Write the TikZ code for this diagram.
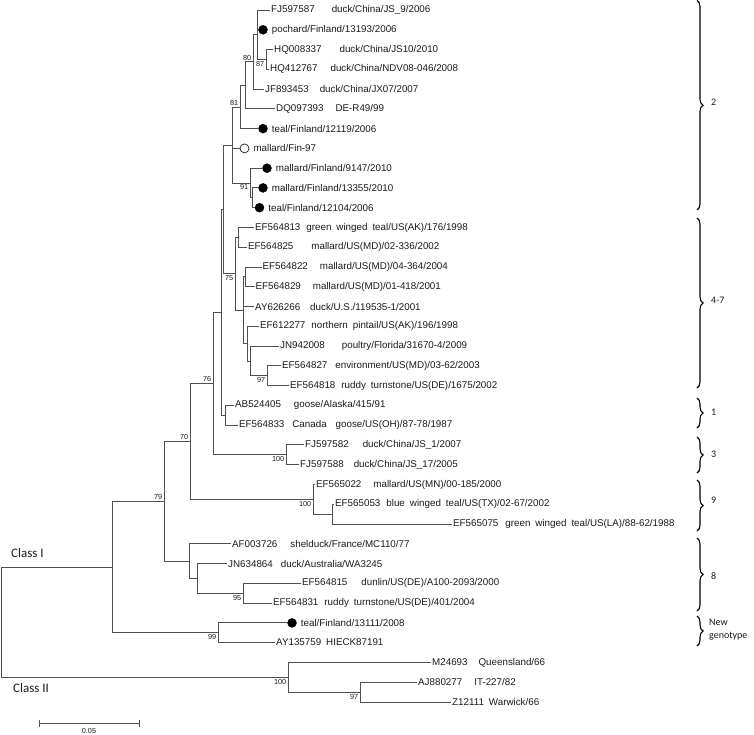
\documentclass[tikz,border=0pt]{standalone}
\usepackage{fontspec}
\setmainfont{Liberation Sans}
\newfontfamily\cladefont{Carlito}
\usepackage{tikz}
\usetikzlibrary{decorations.pathreplacing,positioning}
\definecolor{trLine}{HTML}{505050}
\definecolor{trInk}{HTML}{1A1A1A}
\newcommand{\tgap}[1]{\hspace{#1pt}}
\tikzset{
  tr tree/.style={x=1pt, y=-1pt, font=\fontsize{9.8}{11}\selectfont, text=trInk},
  tr branch/.style={draw=trLine, line width=0.9pt},
  tr leaf/.style={anchor=west, inner sep=1pt},
  tr dot/.style={circle, fill=black, draw=black, inner sep=0pt, minimum size=9pt},
  tr open dot/.style={tr dot, fill=white, line width=0.6pt},
  tr boot/.style={font=\fontsize{7.3}{8}\selectfont, inner sep=0.5pt},
  tr boot above/.style={tr boot, anchor=south east},
  tr boot below/.style={tr boot, anchor=north east},
  tr brace/.style={draw=black, line width=1.1pt, decorate,
    decoration={brace, amplitude=6pt, aspect=0.5}},
  tr clade/.style={font=\cladefont\fontsize{10}{13}\selectfont, anchor=west, align=left, inner sep=1pt},
  tr class/.style={font=\cladefont\fontsize{13}{15}\selectfont, anchor=west, inner sep=1pt},
  tr scale/.style={draw=trLine, line width=0.9pt}
}
\begin{document}
\begin{tikzpicture}[tr tree]
\useasboundingbox (0,0) rectangle (754,734);
\coordinate (root) at (1,622.2);
\coordinate (cI) at (112,567);
\coordinate (cII) at (288,677.3);
\coordinate (n97b) at (360,692.1);
\coordinate (n99) at (218,632.8);
\coordinate (n79) at (164,501.3);
\coordinate (n8) at (189,561.1);
\coordinate (n8b) at (197,578.4);
\coordinate (n95) at (243,593.2);
\coordinate (n70) at (190,441.5);
\coordinate (n9) at (313,499.4);
\coordinate (n9b) at (332,514.2);
\coordinate (n76) at (213,383.6);
\coordinate (n3) at (286,454.8);
\coordinate (nK) at (221,312.4);
\coordinate (n1) at (225,415.3);
\coordinate (nL) at (223,209.5);
\coordinate (n75) at (235,273.9);
\coordinate (n47a) at (238,237.4);
\coordinate (n47b) at (243,310.3);
\coordinate (n47c) at (245,276.9);
\coordinate (n47d) at (247,343.7);
\coordinate (n47e) at (250,361);
\coordinate (n97a) at (267,375.8);
\coordinate (n2) at (232,145);
\coordinate (n81) at (240,107);
\coordinate (n2a) at (245,85.4);
\coordinate (n80) at (253,61.9);
\coordinate (n2b) at (257,34.7);
\coordinate (n87) at (266,59.4);
\coordinate (n91) at (250,183);
\coordinate (n91b) at (252,197.8);

\node[tr leaf] (fj587) at (270,10.0) {FJ597587\tgap{17}duck/China/JS\_9/2006};
\node[tr dot] (pochard) at (263,29.8) {};
\node[tr leaf, right=3pt of pochard] (pochard l) {pochard/Finland/13193/2006};
\node[tr leaf] (hq337) at (273,49.5) {HQ008337\tgap{18}duck/China/JS10/2010};
\node[tr leaf] (hq767) at (269,69.3) {HQ412767\tgap{13}duck/China/NDV08-046/2008};
\node[tr leaf] (jf453) at (264,89.1) {JF893453\tgap{11}duck/China/JX07/2007};
\node[tr leaf] (dq393) at (275,108.9) {DQ097393\tgap{12}DE-R49/99};
\node[tr dot] (teal119) at (263,128.6) {};
\node[tr leaf, right=3pt of teal119] (teal119 l) {teal/Finland/12119/2006};
\node[tr open dot] (mal97) at (244.5,148.4) {};
\node[tr leaf, right=3pt of mal97] (mal97 l) {mallard/Fin-97};
\node[tr dot] (mal147) at (267,168.2) {};
\node[tr leaf, right=3pt of mal147] (mal147 l) {mallard/Finland/9147/2010};
\node[tr dot] (mal355) at (263,187.9) {};
\node[tr leaf, right=3pt of mal355] (mal355 l) {mallard/Finland/13355/2010};
\node[tr dot] (teal104) at (259.5,207.7) {};
\node[tr leaf, right=3pt of teal104] (teal104 l) {teal/Finland/12104/2006};
\node[tr leaf] (ef813) at (254,227.5) {EF564813\tgap{6}green\tgap{5}winged\tgap{5}teal/US(AK)/176/1998};
\node[tr leaf] (ef825) at (247,247.2) {EF564825\tgap{18}mallard/US(MD)/02-336/2002};
\node[tr leaf] (ef822) at (261.5,267.0) {EF564822\tgap{12}mallard/US(MD)/04-364/2004};
\node[tr leaf] (ef829) at (254.5,286.8) {EF564829\tgap{12}mallard/US(MD)/01-418/2001};
\node[tr leaf] (ay266) at (254,306.6) {AY626266\tgap{10}duck/U.S./119535-1/2001};
\node[tr leaf] (ef277) at (259,326.3) {EF612277\tgap{6}northern\tgap{5}pintail/US(AK)/196/1998};
\node[tr leaf] (jn008) at (279,346.1) {JN942008\tgap{17}poultry/Florida/31670-4/2009};
\node[tr leaf] (ef827) at (281,365.9) {EF564827\tgap{8}environment/US(MD)/03-62/2003};
\node[tr leaf] (ef818) at (289,385.6) {EF564818\tgap{6}ruddy\tgap{5}turnstone/US(DE)/1675/2002};
\node[tr leaf] (ab405) at (234,405.4) {AB524405\tgap{13}goose/Alaska/415/91};
\node[tr leaf] (ef833) at (238,425.2) {EF564833\tgap{8}Canada\tgap{9}goose/US(OH)/87-78/1987};
\node[tr leaf] (fj582) at (304,444.9) {FJ597582\tgap{14}duck/China/JS\_1/2007};
\node[tr leaf] (fj588) at (299,464.7) {FJ597588\tgap{10}duck/China/JS\_17/2005};
\node[tr leaf] (ef022) at (315,484.5) {EF565022\tgap{12}mallard/US(MN)/00-185/2000};
\node[tr leaf] (ef053) at (334,504.3) {EF565053\tgap{6}blue\tgap{5}winged\tgap{5}teal/US(TX)/02-67/2002};
\node[tr leaf] (ef075) at (452,524.0) {EF565075\tgap{7}green\tgap{5}winged\tgap{5}teal/US(LA)/88-62/1988};
\node[tr leaf] (af726) at (231,543.8) {AF003726\tgap{13}shelduck/France/MC110/77};
\node[tr leaf] (jn864) at (227,563.6) {JN634864\tgap{8}duck/Australia/WA3245};
\node[tr leaf] (ef815) at (301,583.3) {EF564815\tgap{14}dunlin/US(DE)/A100-2093/2000};
\node[tr leaf] (ef831) at (272,603.1) {EF564831\tgap{6}ruddy\tgap{5}turnstone/US(DE)/401/2004};
\node[tr dot] (teal111) at (292,622.9) {};
\node[tr leaf, right=3pt of teal111] (teal111 l) {teal/Finland/13111/2008};
\node[tr leaf] (ay759) at (275,642.6) {AY135759\tgap{5}HIECK87191};
\node[tr leaf] (m24) at (431,662.4) {M24693\tgap{11}Queensland/66};
\node[tr leaf] (aj277) at (417,682.2) {AJ880277\tgap{12}IT-227/82};
\node[tr leaf] (z12) at (451,702.0) {Z12111\tgap{5}Warwick/66};

\draw[tr branch] (root) |- (cI);
\draw[tr branch] (root) |- (cII);
\draw[tr branch] (cI) |- (n79);
\draw[tr branch] (cI) |- (n99);
\draw[tr branch] (n79) |- (n70);
\draw[tr branch] (n79) |- (n8);
\draw[tr branch] (n70) |- (n76);
\draw[tr branch] (n70) |- (n9);
\draw[tr branch] (n76) |- (nK);
\draw[tr branch] (n76) |- (n3);
\draw[tr branch] (nK) |- (nL);
\draw[tr branch] (nK) |- (n1);
\draw[tr branch] (nL) |- (n2);
\draw[tr branch] (nL) |- (n75);
\draw[tr branch] (n2) |- (n81);
\draw[tr branch] (n2) |- (mal97);
\draw[tr branch] (n2) |- (n91);
\draw[tr branch] (n81) |- (n2a);
\draw[tr branch] (n81) |- (teal119);
\draw[tr branch] (n2a) |- (n80);
\draw[tr branch] (n2a) |- (dq393);
\draw[tr branch] (n80) |- (n2b);
\draw[tr branch] (n80) |- (jf453);
\draw[tr branch] (n2b) |- (fj587);
\draw[tr branch] (n2b) |- (pochard);
\draw[tr branch] (n2b) |- (n87);
\draw[tr branch] (n87) |- (hq337);
\draw[tr branch] (n87) |- (hq767);
\draw[tr branch] (n91) |- (mal147);
\draw[tr branch] (n91) |- (n91b);
\draw[tr branch] (n91b) |- (mal355);
\draw[tr branch] (n91b) |- (teal104);
\draw[tr branch] (n75) |- (n47a);
\draw[tr branch] (n75) |- (n47b);
\draw[tr branch] (n47a) |- (ef813);
\draw[tr branch] (n47a) |- (ef825);
\draw[tr branch] (n47b) |- (n47c);
\draw[tr branch] (n47b) |- (ay266);
\draw[tr branch] (n47b) |- (n47d);
\draw[tr branch] (n47c) |- (ef822);
\draw[tr branch] (n47c) |- (ef829);
\draw[tr branch] (n47d) |- (ef277);
\draw[tr branch] (n47d) |- (n47e);
\draw[tr branch] (n47e) |- (jn008);
\draw[tr branch] (n47e) |- (n97a);
\draw[tr branch] (n97a) |- (ef827);
\draw[tr branch] (n97a) |- (ef818);
\draw[tr branch] (n1) |- (ab405);
\draw[tr branch] (n1) |- (ef833);
\draw[tr branch] (n3) |- (fj582);
\draw[tr branch] (n3) |- (fj588);
\draw[tr branch] (n9) |- (ef022);
\draw[tr branch] (n9) |- (n9b);
\draw[tr branch] (n9b) |- (ef053);
\draw[tr branch] (n9b) |- (ef075);
\draw[tr branch] (n8) |- (af726);
\draw[tr branch] (n8) |- (n8b);
\draw[tr branch] (n8b) |- (jn864);
\draw[tr branch] (n8b) |- (n95);
\draw[tr branch] (n95) |- (ef815);
\draw[tr branch] (n95) |- (ef831);
\draw[tr branch] (n99) |- (teal111);
\draw[tr branch] (n99) |- (ay759);
\draw[tr branch] (cII) |- (m24);
\draw[tr branch] (cII) |- (n97b);
\draw[tr branch] (n97b) |- (aj277);
\draw[tr branch] (n97b) |- (z12);

\node[tr boot below] (bs87) at (265,60.5) {87};
\node[tr boot above] (bs80) at (252,61) {80};
\node[tr boot above] (bs81) at (239,106) {81};
\node[tr boot below] (bs91) at (249,184) {91};
\node[tr boot below] (bs75) at (234,275) {75};
\node[tr boot below] (bs97a) at (266,377) {97};
\node[tr boot above] (bs76) at (212,382.6) {76};
\node[tr boot above] (bs70) at (189,440.5) {70};
\node[tr boot below] (bs100c) at (285,456) {100};
\node[tr boot below] (bs100n) at (312,500.5) {100};
\node[tr boot above] (bs79) at (163,500.3) {79};
\node[tr boot below] (bs95) at (242,594.3) {95};
\node[tr boot below] (bs99) at (217,634) {99};
\node[tr boot below] (bs100i) at (287,678.5) {100};
\node[tr boot below] (bs97b) at (359,693.2) {97};

\node[tr class] (class1) at (10,553) {Class I};
\node[tr class] (class2) at (12,688) {Class II};

\draw[tr brace] (697,0.5) -- (697,210);
\node[tr clade] (g2) at (710,102) {2};
\draw[tr brace] (697,218) -- (697,388);
\node[tr clade] (g47) at (710,300) {4-7};
\draw[tr brace] (697,398) -- (697,428);
\node[tr clade] (g1) at (710,412) {1};
\draw[tr brace] (697,437) -- (697,473);
\node[tr clade] (g3) at (710,454) {3};
\draw[tr brace] (697,480) -- (697,531);
\node[tr clade] (g9) at (710,500) {9};
\draw[tr brace] (697,538) -- (697,611);
\node[tr clade] (g8) at (710,576) {8};
\draw[tr brace] (697,616) -- (697,646);
\node[tr clade] (gnew) at (708,630) {New\\genotype};

\coordinate (sbL) at (39,723);
\coordinate (sbR) at (139,723);
\draw[tr scale] (sbL) -- (sbR);
\draw[tr scale] ([yshift=3.5pt]sbL) -- ([yshift=-3.5pt]sbL);
\draw[tr scale] ([yshift=3.5pt]sbR) -- ([yshift=-3.5pt]sbR);
\node[tr boot] (sbT) at (89,731) {0.05};
\end{tikzpicture}
\end{document}
